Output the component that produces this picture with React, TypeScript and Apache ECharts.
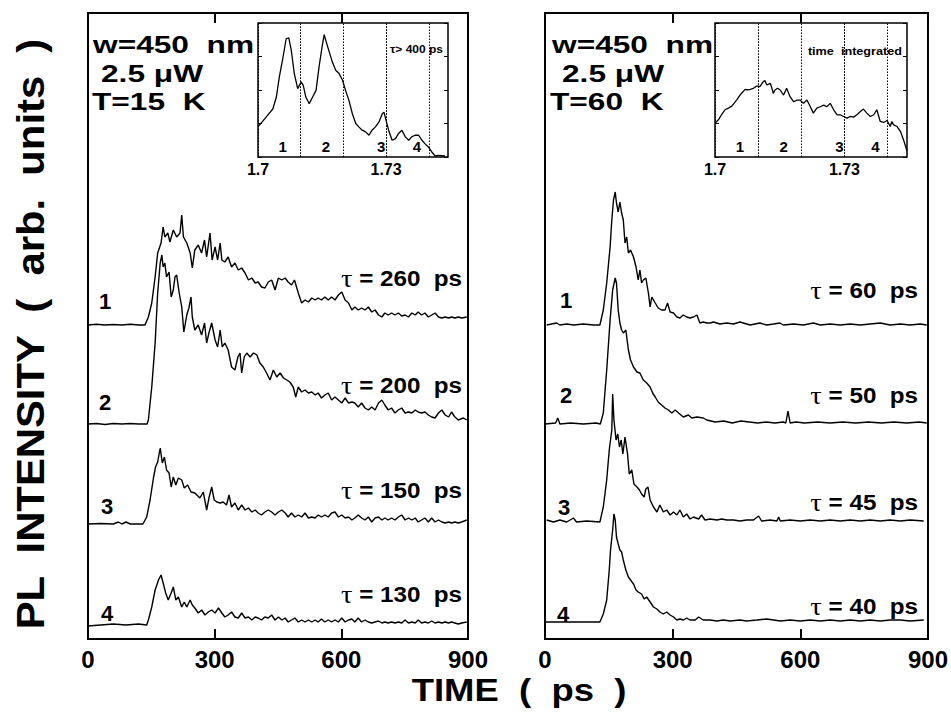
import React, { useEffect, useRef } from 'react';
import * as echarts from 'echarts';

// ---------- data ----------
// time-resolved traces: [time (ps), intensity above baseline (arb.)]
const L1: [number, number][] = [[0,0],[20,0.7],[40,0],[60,0.5],[80,0],[100,0.7],[120,0],[135,0],[143,8],[151,22],[159,48],[165,72],[173,82],[178,98],[182,88],[189,92],[194,83],[202,95],[210,88],[218,92],[222,110],[226,88],[234,82],[242,72],[247,57],[253,75],[261,80],[269,72],[276,85],[281,68],[289,92],[294,65],[301,78],[307,65],[313,82],[317,65],[324,63],[332,68],[340,58],[348,62],[356,55],[364,57],[372,52],[380,45],[388,47],[396,42],[403,43],[411,38],[419,37],[427,43],[435,45],[443,35],[451,47],[459,45],[467,47],[474,43],[482,40],[489,45],[498,32],[506,22],[514,25],[522,23],[530,27],[538,25],[545,27],[553,25],[561,28],[569,25],[577,28],[585,25],[593,30],[601,33],[609,25],[617,22],[625,15],[632,18],[640,15],[648,17],[656,15],[664,18],[672,13],[680,15],[688,10],[696,8],[703,12],[711,10],[719,12],[727,10],[735,12],[743,9],[751,10],[759,8],[767,12],[775,10],[782,13],[790,10],[798,12],[806,8],[814,10],[822,12],[830,8],[838,7],[846,8],[854,7],[861,8],[869,7],[877,8],[885,7],[897,8]];
const L2: [number, number][] = [[0,0],[20,0.5],[40,-0.5],[60,0.5],[80,0],[100,0.5],[120,0],[140,0],[143,4],[151,37],[159,81],[165,131],[171,161],[175,169],[178,157],[182,161],[186,147],[192,152],[197,127],[202,134],[206,147],[210,149],[216,131],[222,117],[227,92],[234,109],[239,116],[244,127],[247,107],[253,94],[261,99],[269,89],[276,101],[281,81],[287,92],[293,101],[301,84],[307,77],[313,94],[318,77],[324,81],[332,74],[340,57],[348,54],[355,67],[360,71],[364,51],[370,67],[376,71],[384,67],[392,71],[400,69],[407,61],[415,57],[423,51],[431,44],[439,54],[447,47],[455,51],[463,46],[471,44],[478,42],[486,37],[492,27],[498,37],[506,32],[514,34],[522,31],[530,32],[538,29],[545,31],[553,26],[561,29],[569,31],[577,24],[585,27],[593,24],[601,21],[609,26],[617,21],[625,22],[632,21],[640,17],[648,21],[656,16],[664,14],[672,17],[680,14],[688,21],[696,24],[703,19],[711,14],[719,16],[727,11],[735,14],[743,16],[751,11],[759,12],[767,11],[775,14],[782,12],[790,11],[798,12],[806,9],[814,7],[822,6],[830,11],[838,14],[846,9],[854,7],[861,12],[869,7],[877,4],[889,6],[897,4]];
const L3: [number, number][] = [[0,0],[30,0.5],[60,0],[72,2],[80,0],[90,2],[100,0],[120,0],[130,0],[139,7],[147,24],[155,46],[160,57],[165,62],[171,76],[176,61],[181,67],[186,54],[192,51],[197,37],[202,47],[208,39],[214,46],[222,44],[228,36],[236,39],[244,32],[253,31],[265,26],[273,32],[281,14],[287,27],[293,37],[299,24],[305,22],[313,21],[320,22],[328,19],[334,29],[340,17],[348,21],[356,14],[364,19],[372,14],[380,16],[388,12],[396,14],[403,11],[411,9],[419,12],[427,14],[435,12],[443,9],[451,12],[459,14],[467,11],[474,7],[482,11],[490,7],[498,9],[506,7],[514,11],[522,6],[530,7],[538,6],[545,9],[553,7],[561,9],[569,7],[577,11],[585,12],[593,7],[601,9],[609,6],[617,7],[625,4],[632,6],[640,9],[648,6],[656,4],[664,7],[672,2],[680,6],[688,7],[696,4],[703,6],[711,4],[719,6],[727,4],[735,7],[743,9],[751,4],[759,6],[767,4],[775,6],[782,2],[790,4],[798,6],[806,2],[814,6],[822,2],[830,4],[838,2],[846,1],[854,2],[861,1],[869,2],[877,1],[885,2],[897,4]];
const L4: [number, number][] = [[0,-1],[30,0],[60,1],[90,0],[120,1],[139,0],[143,5],[151,18],[159,35],[167,45],[173,50],[178,42],[184,32],[190,25],[197,32],[202,38],[208,25],[214,28],[222,18],[228,23],[234,18],[242,25],[247,20],[253,17],[261,12],[269,15],[277,10],[285,13],[293,15],[301,12],[309,17],[317,12],[324,8],[332,10],[340,13],[348,8],[356,7],[364,12],[372,7],[380,8],[388,5],[396,8],[403,7],[411,5],[419,8],[427,7],[435,10],[443,5],[451,8],[459,5],[467,7],[474,3],[482,5],[490,7],[498,3],[506,5],[514,3],[522,5],[530,3],[538,5],[545,3],[553,6],[561,3],[569,5],[577,3],[585,5],[593,3],[601,7],[609,3],[617,5],[625,6],[632,3],[640,7],[648,3],[656,5],[664,3],[672,2],[680,3],[688,4],[696,2],[703,3],[711,2],[719,3],[727,2],[735,3],[743,2],[751,5],[759,2],[767,3],[775,2],[782,5],[790,2],[798,3],[806,2],[814,4],[822,2],[830,3],[838,2],[846,3],[854,2],[861,3],[869,2],[877,1],[885,2],[897,3]];

const R1: [number, number][] = [[4,0],[27,2],[35,0],[51,1],[67,0],[90,1],[114,0],[129,0],[137,15],[145,42],[153,78],[157,105],[161,125],[165,133],[168,122],[172,113],[176,123],[180,112],[184,105],[188,82],[192,88],[196,72],[201,75],[208,68],[214,58],[219,45],[223,55],[227,42],[231,45],[237,47],[243,32],[247,18],[251,28],[259,22],[266,17],[274,15],[282,15],[288,22],[294,13],[302,12],[310,8],[317,7],[325,10],[333,8],[341,7],[349,8],[357,10],[364,2],[372,3],[380,2],[388,2],[396,3],[411,1],[427,2],[443,1],[458,3],[466,2],[482,0],[505,2],[521,0],[537,1],[552,2],[560,0],[584,1],[607,0],[631,2],[647,0],[670,1],[694,0],[717,1],[741,0],[764,1],[788,2],[811,0],[835,1],[858,0],[882,1],[897,0]];
const R2: [number, number][] = [[0,0],[25,1],[30,6],[35,0],[60,1],[90,0],[120,1],[130,0],[137,11],[145,54],[153,104],[159,134],[165,146],[168,141],[172,114],[176,101],[180,94],[184,91],[190,94],[196,74],[201,64],[208,57],[216,52],[223,51],[231,44],[239,41],[247,37],[253,31],[259,27],[266,22],[274,19],[282,16],[290,14],[298,11],[306,14],[314,11],[325,7],[337,9],[345,6],[357,7],[372,6],[380,4],[400,2],[420,3],[440,1],[460,3],[480,2],[500,1],[520,2],[540,1],[560,2],[566,1],[571,13],[576,1],[590,2],[610,1],[640,2],[670,1],[700,2],[730,1],[760,2],[790,1],[820,2],[850,1],[880,2],[897,1]];
const R3: [number, number][] = [[4,2],[20,0],[35,2],[51,0],[67,4],[74,0],[98,1],[129,0],[137,15],[145,42],[151,72],[157,92],[159,128],[162,102],[167,82],[171,88],[175,75],[179,82],[183,68],[188,85],[194,68],[198,48],[204,52],[209,38],[216,35],[222,32],[227,28],[233,25],[237,33],[242,35],[247,22],[255,15],[263,10],[270,17],[278,10],[286,12],[294,7],[302,10],[310,7],[317,12],[325,5],[333,8],[341,3],[349,5],[361,3],[368,7],[376,2],[388,3],[404,2],[415,3],[427,2],[443,2],[458,1],[474,2],[490,2],[502,6],[509,1],[529,2],[545,1],[549,5],[553,1],[576,2],[600,1],[623,2],[647,1],[670,2],[694,1],[717,2],[741,1],[764,2],[788,1],[811,2],[835,1],[858,2],[890,1]];
const R4: [number, number][] = [[0,0],[60,0],[129,0],[137,8],[145,22],[151,52],[154,72],[159,92],[162,108],[165,102],[168,85],[172,78],[176,72],[180,70],[184,62],[190,52],[196,45],[201,42],[208,38],[214,32],[219,30],[227,28],[233,23],[239,25],[247,20],[255,15],[263,13],[270,10],[278,8],[286,10],[294,7],[302,5],[310,2],[317,3],[325,2],[333,4],[341,2],[353,2],[361,5],[372,2],[388,2],[404,1],[419,2],[435,1],[458,2],[474,1],[498,2],[521,3],[537,2],[553,1],[576,2],[600,1],[623,2],[647,1],[670,2],[694,1],[717,2],[741,1],[764,2],[788,1],[811,2],[835,2],[858,1],[890,2]];

// vertical offsets of the stacked traces (arb. units)
const LEFT_OFFSETS = [314, 215, 115, 14];
const RIGHT_OFFSETS = [314, 215, 117, 17];
const TRACE_NAMES = ['1', '2', '3', '4'];
const LEFT_TAUS = ['260', '200', '150', '130'];
const RIGHT_TAUS = ['60', '50', '45', '40'];

// inset spectra: [energy (eV), intensity]
const SPEC_L: [number, number][] = [[1.7,0.9],[1.7019,1.19],[1.7035,1.44],[1.7043,1.79],[1.705,2.39],[1.7058,2.94],[1.7066,3.53],[1.7072,3.56],[1.7078,3.18],[1.7085,2.49],[1.7093,2.04],[1.7101,2.24],[1.7106,2.14],[1.7112,1.79],[1.712,1.59],[1.7128,1.79],[1.7136,1.99],[1.7143,2.69],[1.715,3.28],[1.7155,3.65],[1.716,3.43],[1.7167,3.13],[1.7174,2.84],[1.7182,2.59],[1.719,2.49],[1.7198,2.29],[1.7205,1.99],[1.7213,1.69],[1.7221,1.29],[1.7229,1.0],[1.7236,0.9],[1.7244,0.8],[1.7252,0.75],[1.726,0.65],[1.7267,0.8],[1.7275,0.9],[1.7283,1.04],[1.7291,1.29],[1.7295,1.34],[1.7298,1.19],[1.7306,0.8],[1.7314,0.5],[1.7322,0.55],[1.7329,0.7],[1.7337,0.8],[1.7345,0.6],[1.7353,0.5],[1.736,0.6],[1.7368,0.65],[1.7376,0.65],[1.7384,0.5],[1.7391,0.4],[1.7399,0.3],[1.7407,0.15],[1.7415,0.03],[1.7422,0.05],[1.7438,0.03]];
const SPEC_R: [number, number][] = [[1.7,1.01],[1.7008,1.11],[1.7015,1.26],[1.7023,1.41],[1.7031,1.46],[1.7039,1.52],[1.705,1.7],[1.7058,1.85],[1.707,2.02],[1.7077,2.0],[1.7089,2.05],[1.7097,2.12],[1.7104,2.1],[1.7112,2.25],[1.7116,2.28],[1.712,2.15],[1.7128,2.2],[1.7132,2.05],[1.7135,1.9],[1.7139,2.0],[1.7145,2.05],[1.7151,2.0],[1.7159,1.85],[1.7166,2.05],[1.7174,1.8],[1.7182,1.65],[1.719,1.7],[1.7197,1.7],[1.7205,1.6],[1.7213,1.7],[1.7221,1.5],[1.7228,1.31],[1.7236,1.46],[1.7244,1.5],[1.7252,1.55],[1.7259,1.5],[1.7267,1.6],[1.7275,1.41],[1.7283,1.26],[1.729,1.26],[1.7298,1.21],[1.7306,1.16],[1.7313,1.21],[1.7321,1.19],[1.7329,1.26],[1.7337,1.36],[1.7344,1.43],[1.7352,1.31],[1.736,1.21],[1.7368,1.26],[1.7375,1.41],[1.7383,1.06],[1.7391,1.03],[1.7399,1.09],[1.7406,0.91],[1.741,1.06],[1.7414,0.96],[1.7422,0.91],[1.743,0.76],[1.7437,0.51],[1.7445,0.17]];

// energy windows (dotted lines) and their labels
const WINDOW_EDGES = [1.7034, 1.7081, 1.7135, 1.7183, 1.7265, 1.7312, 1.7349, 1.7395];
const WINDOW_NAMES = ['1', '2', '3', '4'];
const INSET_TITLES = ['τ> 400 ps', 'time  integrated'];
const PANEL_INFO = [
  ['w=450  nm', '2.5 μW', 'T=15  K'],
  ['w=450  nm', '2.5 μW', 'T=60  K'],
];

const FONT = "'Liberation Sans', Arial, Helvetica, sans-serif";

function fmtE(v: number) {
  const r = Math.round(v * 1000) / 1000;
  if (r === 1.7) return '1.7';
  if (r === 1.73) return '1.73';
  return '';
}

function trace(pts: [number, number][], off: number, xi: number, yi: number) {
  return {
    type: 'line', xAxisIndex: xi, yAxisIndex: yi, silent: true, symbol: 'none',
    data: pts.map(([t, v]) => [t, v + off]),
    lineStyle: { color: '#000', width: 1.4 }, z: 3,
  };
}

function spectrum(pts: [number, number][], xi: number, yi: number) {
  return {
    type: 'line', xAxisIndex: xi, yAxisIndex: yi, silent: true, symbol: 'none',
    data: pts,
    lineStyle: { color: '#000', width: 1.3 }, z: 3,
    markLine: {
      silent: true, symbol: ['none', 'none'], label: { show: false },
      lineStyle: { color: '#000', width: 1, type: [1.5, 1.5] },
      data: WINDOW_EDGES.map((e) => ({ xAxis: e })),
    },
    markPoint: {
      silent: true, symbol: 'circle', symbolSize: 1, itemStyle: { color: 'rgba(0,0,0,0)' },
      label: { show: true, position: 'inside', color: '#000', fontSize: 15, fontWeight: 'bold', fontFamily: FONT, formatter: (p: any) => p.name },
      data: WINDOW_NAMES.map((n, i) => ({ name: n, coord: [(WINDOW_EDGES[2 * i] + WINDOW_EDGES[2 * i + 1]) / 2, 0.3] })),
    },
  };
}

function text(t: string, x: number, y: number, size: number, extra: any = {}, style: any = {}) {
  return {
    type: 'text', x, y, silent: true, ...extra,
    style: { text: t, fill: '#000', fontSize: size, fontWeight: 'bold', fontFamily: FONT, align: 'left', verticalAlign: 'middle', ...style },
  };
}

const TAU_RICH = { t: { fontFamily: "'Liberation Serif', 'Times New Roman', serif", fontWeight: 'normal', fontSize: 26, fill: '#000' } };

function buildOption() {
  const mainX = (gi: number, pos: 'bottom' | 'top') => ({
    gridIndex: gi, type: 'value', min: 0, max: 900, interval: 300, position: pos,
    axisLine: { show: false },
    axisTick: { show: true, inside: true, length: 10, lineStyle: { color: '#000', width: 2 } },
    splitLine: { show: false },
    axisLabel: pos === 'bottom'
      ? { show: true, color: '#000', fontSize: 24, fontWeight: 'bold', fontFamily: FONT, margin: 8 }
      : { show: false },
  });
  const insetX = (gi: number) => ({
    gridIndex: gi, type: 'value', min: 1.7, max: 1.7445, interval: 0.01,
    axisLine: { show: false }, axisTick: { show: false }, splitLine: { show: false },
    axisLabel: { formatter: fmtE, color: '#000', fontSize: 16, fontWeight: 'bold', fontFamily: FONT, margin: 4, showMaxLabel: false },
  });
  const insetY = (gi: number, pos: 'left' | 'right') => ({
    gridIndex: gi, type: 'value', min: 0, max: 4, interval: 1, position: pos,
    axisLine: { show: false },
    axisTick: { show: true, inside: true, length: 4, lineStyle: { color: '#000', width: 1 } },
    axisLabel: { show: false }, splitLine: { show: false },
  });

  const graphics: any[] = [];
  // panel info
  const infoX = [[93, 101, 92], [552, 562, 550]];
  const infoY = [45, 74, 102];
  PANEL_INFO.forEach((lines, p) => {
    lines.forEach((l, i) => graphics.push(text(l, infoX[p][i], infoY[i], 24, { scaleX: 1.32 })));
  });
  // trace numbers
  const numL = [[105, 301], [105, 402], [107, 506], [107, 613]];
  const numR = [[566, 300], [566, 395], [564, 507], [563, 614]];
  TRACE_NAMES.forEach((n, i) => {
    graphics.push(text(n, numL[i][0], numL[i][1], 22, {}, { align: 'center' }));
    graphics.push(text(n, numR[i][0], numR[i][1], 22, {}, { align: 'center' }));
  });
  // lifetimes
  const tauYL = [278, 385, 490, 594];
  const tauYR = [290, 395, 502, 606];
  LEFT_TAUS.forEach((v, i) => graphics.push(text(`{t|τ} = ${v}  ps`, 462, tauYL[i], 22, { scaleX: 1.1 }, { align: 'right', rich: TAU_RICH })));
  RIGHT_TAUS.forEach((v, i) => graphics.push(text(`{t|τ} = ${v}  ps`, 918, tauYR[i], 22, { scaleX: 1.1 }, { align: 'right', rich: TAU_RICH })));
  // inset titles
  graphics.push(text(INSET_TITLES[0], 443, 49, 10, { scaleX: 1.2 }, { align: 'right' }));
  graphics.push(text(INSET_TITLES[1], 902, 51, 11, { scaleX: 1.15 }, { align: 'right' }));
  // axis titles
  graphics.push(text('TIME  (  ps  )', 519, 690, 32, { scaleX: 1.14 }, { align: 'center' }));
  graphics.push(text('PL  INTENSITY  (  arb.  units  )', 31, 334, 38, { rotation: Math.PI / 2, scaleX: 1.1 }, { align: 'center' }));

  return {
    animation: false,
    backgroundColor: '#fff',
    grid: [
      { left: 88, top: 13, width: 380, height: 626, show: true, borderColor: '#000', borderWidth: 2 },
      { left: 545, top: 13, width: 383, height: 626, show: true, borderColor: '#000', borderWidth: 2 },
      { left: 258, top: 23, width: 190, height: 134, show: true, borderColor: '#000', borderWidth: 1.5 },
      { left: 715, top: 23, width: 192, height: 134, show: true, borderColor: '#000', borderWidth: 1.5 },
    ],
    xAxis: [mainX(0, 'bottom'), mainX(0, 'top'), mainX(1, 'bottom'), mainX(1, 'top'), insetX(2), insetX(3)],
    yAxis: [
      { gridIndex: 0, type: 'value', min: 0, max: 626, show: false },
      { gridIndex: 1, type: 'value', min: 0, max: 626, show: false },
      insetY(2, 'left'), insetY(2, 'right'), insetY(3, 'left'), insetY(3, 'right'),
    ],
    series: [
      ...[L1, L2, L3, L4].map((d, i) => trace(d, LEFT_OFFSETS[i], 0, 0)),
      ...[R1, R2, R3, R4].map((d, i) => trace(d, RIGHT_OFFSETS[i], 2, 1)),
      spectrum(SPEC_L, 4, 2),
      spectrum(SPEC_R, 5, 4),
    ],
    graphic: graphics,
  };
}

export default function App() {
  const ref = useRef<HTMLDivElement>(null);
  useEffect(() => {
    if (!ref.current) return;
    const chart = echarts.init(ref.current, null, { renderer: 'svg' });
    chart.setOption(buildOption() as any);
    return () => chart.dispose();
  }, []);
  return <div ref={ref} style={{ position: 'fixed', left: 0, top: 0, width: 951, height: 715, background: '#fff' }} />;
}
